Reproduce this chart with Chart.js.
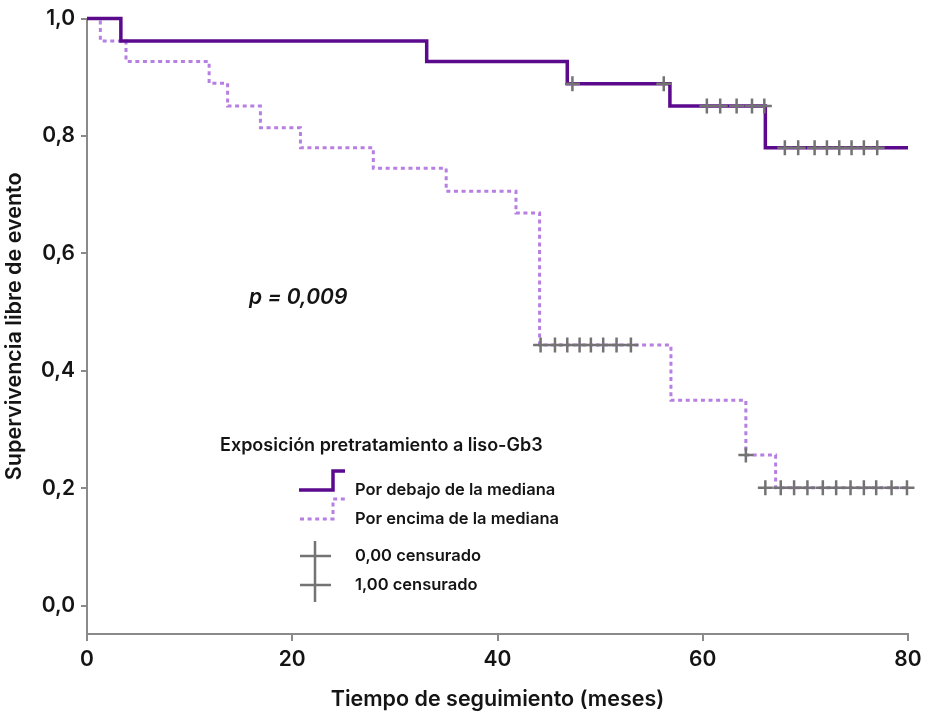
<!DOCTYPE html>
<html>
<head>
<meta charset="utf-8">
<script src="https://cdn.jsdelivr.net/npm/chart.js@4/dist/chart.umd.min.js"></script>
<style>
  html, body { margin: 0; padding: 0; background: #ffffff; }
  canvas { display: block; }
</style>
</head>
<body>
<canvas id="c" width="928" height="715"></canvas>
<script>
// ---- data ----
const seriesNames = ['Por debajo de la mediana', 'Por encima de la mediana'];
const censorNames = ['0,00 censurado', '1,00 censurado'];
const legendTitle = 'Exposición pretratamiento a liso-Gb3';
const pText = 'p = 0,009';
const xTitle = 'Tiempo de seguimiento (meses)';
const yTitle = 'Supervivencia libre de evento';

const xTickValues = [0, 20, 40, 60, 80];
const xTickLabels = ['0', '20', '40', '60', '80'];
const yTickValues = [0, 0.2, 0.4, 0.6, 0.8, 1.0];
const yTickLabels = ['0,0', '0,2', '0,4', '0,6', '0,8', '1,0'];

// Por debajo de la mediana (step curve)
const belowTimes = [0, 3.3, 33.1, 46.8, 56.8, 66.1, 80];
const belowSurv  = [1.0, 0.962, 0.927, 0.889, 0.851, 0.780, 0.780];
const belowCensorTimes = [47.3, 56.2, 60.4, 61.7, 63.3, 64.8, 66.0, 68.0, 69.3, 70.9, 72.1, 73.3, 74.5, 75.7, 77.0];
const belowCensorSurv  = [0.889, 0.889, 0.851, 0.851, 0.851, 0.851, 0.851, 0.780, 0.780, 0.780, 0.780, 0.780, 0.780, 0.780, 0.780];

// Por encima de la mediana (step curve)
const aboveTimes = [0, 1.3, 3.8, 11.9, 13.7, 16.9, 20.8, 27.9, 35.0, 41.8, 44.1, 56.9, 64.2, 67.1, 80];
const aboveSurv  = [1.0, 0.962, 0.927, 0.890, 0.851, 0.814, 0.780, 0.745, 0.706, 0.669, 0.444, 0.350, 0.257, 0.201, 0.201];
const aboveCensorTimes = [44.2, 45.6, 46.8, 48.0, 49.1, 50.3, 51.6, 53.0, 64.2, 66.1, 67.6, 68.9, 70.2, 71.7, 73.0, 74.4, 75.7, 76.9, 78.4, 79.9];
const aboveCensorSurv  = [0.444, 0.444, 0.444, 0.444, 0.444, 0.444, 0.444, 0.444, 0.257, 0.201, 0.201, 0.201, 0.201, 0.201, 0.201, 0.201, 0.201, 0.201, 0.201, 0.201];

// ---- styles ----
const SOLID = '#5b0a8e';
const DOTTED = '#b77fe2';
const CENSOR = '#737373';
const AXIS = '#8a8a8a';
const TEXT = '#141414';
const FONT = 'Inter, "Noto Sans", sans-serif';

const pts = (xs, ys) => xs.map((x, i) => ({ x: x, y: ys[i] }));

const overlay = {
  id: 'overlay',
  afterDraw(chart) {
    const ctx = chart.ctx;
    ctx.save();
    ctx.fillStyle = TEXT;
    ctx.textBaseline = 'middle';
    ctx.textAlign = 'left';
    // p value
    ctx.font = 'italic 600 21px ' + FONT;
    ctx.fillText(pText, 249, 298);
    // legend title
    ctx.font = '600 18px ' + FONT;
    ctx.fillText(legendTitle, 220, 446);
    // legend step icons
    ctx.lineJoin = 'miter';
    ctx.lineCap = 'butt';
    ctx.strokeStyle = SOLID; ctx.lineWidth = 3.5; ctx.setLineDash([]);
    ctx.beginPath(); ctx.moveTo(299, 490); ctx.lineTo(333, 490); ctx.lineTo(333, 471); ctx.lineTo(345, 471); ctx.stroke();
    ctx.strokeStyle = DOTTED; ctx.lineWidth = 3; ctx.setLineDash([4, 3.6]);
    ctx.beginPath(); ctx.moveTo(300, 519); ctx.lineTo(333, 519); ctx.lineTo(333, 499); ctx.lineTo(345, 499); ctx.stroke();
    ctx.setLineDash([]);
    // censor icons
    ctx.strokeStyle = CENSOR; ctx.lineWidth = 2.5;
    ctx.beginPath();
    ctx.moveTo(315, 541); ctx.lineTo(315, 602);
    ctx.moveTo(300, 556); ctx.lineTo(331, 556);
    ctx.moveTo(300, 585); ctx.lineTo(331, 585);
    ctx.stroke();
    // legend texts
    ctx.fillStyle = TEXT;
    ctx.font = '600 16.5px ' + FONT;
    ctx.fillText(seriesNames[0], 355, 490);
    ctx.fillText(seriesNames[1], 355, 519);
    ctx.fillText(censorNames[0], 355, 556);
    ctx.fillText(censorNames[1], 355, 585);
    ctx.restore();
  }
};

new Chart(document.getElementById('c'), {
  type: 'scatter',
  data: {
    datasets: [
      { label: 'censor-below', data: pts(belowCensorTimes, belowCensorSurv), showLine: false,
        pointStyle: 'cross', pointRadius: 7.5, pointBorderWidth: 2.5, pointBorderColor: CENSOR, pointBackgroundColor: CENSOR, clip: false, order: 0 },
      { label: 'censor-above', data: pts(aboveCensorTimes, aboveCensorSurv), showLine: false,
        pointStyle: 'cross', pointRadius: 7.5, pointBorderWidth: 2.5, pointBorderColor: CENSOR, pointBackgroundColor: CENSOR, clip: false, order: 1 },
      { label: seriesNames[0], data: pts(belowTimes, belowSurv), showLine: true, stepped: 'before',
        borderColor: SOLID, borderWidth: 3.5, pointRadius: 0, fill: false, clip: false, order: 2 },
      { label: seriesNames[1], data: pts(aboveTimes, aboveSurv), showLine: true, stepped: 'before',
        borderColor: DOTTED, borderWidth: 3, borderDash: [4, 3.6], pointRadius: 0, fill: false, clip: false, order: 3 }
    ]
  },
  options: {
    responsive: false,
    animation: false,
    devicePixelRatio: 1,
    layout: { padding: { left: 0, right: 20, top: 14, bottom: 0 } },
    plugins: { legend: { display: false }, tooltip: { enabled: false } },
    scales: {
      x: {
        type: 'linear', min: 0, max: 80,
        afterFit(s) { s.height = 81; },
        afterBuildTicks(s) { s.ticks = xTickValues.map(v => ({ value: v })); },
        ticks: { callback: (v) => xTickLabels[xTickValues.indexOf(v)], color: TEXT, font: { family: FONT, size: 21, weight: '600' }, padding: 6, maxRotation: 0 },
        grid: { drawOnChartArea: false, drawTicks: true, tickLength: 7, color: AXIS, lineWidth: 2 },
        border: { display: true, color: AXIS, width: 2 },
        title: { display: true, text: xTitle, color: TEXT, font: { family: FONT, size: 21.5, weight: '600' }, padding: { top: 0, bottom: 3 } }
      },
      y: {
        type: 'linear', min: -0.048, max: 1.0,
        afterFit(s) { s.width = 87; },
        afterBuildTicks(s) { s.ticks = yTickValues.map(v => ({ value: v })); },
        ticks: { callback: (v) => yTickLabels[yTickValues.findIndex(t => Math.abs(t - v) < 1e-9)], color: TEXT, font: { family: FONT, size: 21, weight: '600' }, padding: 6 },
        grid: { drawOnChartArea: false, drawTicks: true, tickLength: 6, color: AXIS, lineWidth: 2 },
        border: { display: true, color: AXIS, width: 2 },
        title: { display: true, text: yTitle, color: TEXT, font: { family: FONT, size: 21.5, weight: '600' }, padding: { top: 2, bottom: 0 } }
      }
    }
  },
  plugins: [overlay]
});
</script>
</body>
</html>
